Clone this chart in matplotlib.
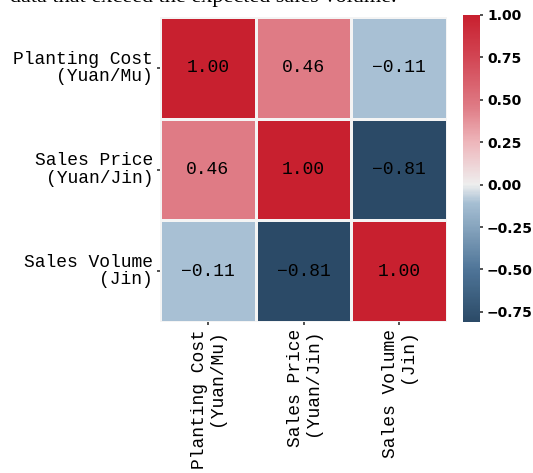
import numpy as np
import matplotlib
matplotlib.use("Agg")
import matplotlib.pyplot as plt
from matplotlib.colors import LinearSegmentedColormap, Normalize

labels = ["Planting Cost\n(Yuan/Mu)", "Sales Price\n(Yuan/Jin)", "Sales Volume\n(Jin)"]
corr = np.array([
    [1.00, 0.46, -0.11],
    [0.46, 1.00, -0.81],
    [-0.11, -0.81, 1.00],
])
cbar_ticks = [-0.75, -0.50, -0.25, 0.00, 0.25, 0.50, 0.75, 1.00]
caption = "data that exceed the expected sales volume."

vmin, vmax = corr.min(), corr.max()
nodes_v = [-0.81, -0.5, -0.11, 0.0, 0.25, 0.46, 0.75, 1.0]
nodes_c = ["#2b4a67", "#4f7598", "#a6bfd3", "#eeeeee", "#eeb6bb", "#df7b85", "#d24654", "#c8202f"]
cmap = LinearSegmentedColormap.from_list(
    "div", [((v - vmin) / (vmax - vmin), c) for v, c in zip(nodes_v, nodes_c)])
norm = Normalize(vmin=vmin, vmax=vmax)

W, H = 533, 473
fig = plt.figure(figsize=(W / 100, H / 100), dpi=100)
ax = fig.add_axes([160 / W, 1 - 322 / H, 287 / W, 305 / H])
cax = fig.add_axes([463 / W, 1 - 322 / H, 17 / W, 307 / H])

n = len(labels)
mesh = ax.pcolormesh(np.arange(n + 1), np.arange(n + 1), corr, cmap=cmap, norm=norm,
                     edgecolors="#f4f4f4", linewidth=0.8)
ax.set_xlim(0, n)
ax.set_ylim(n, 0)
for s in ax.spines.values():
    s.set_visible(False)

mono = "Liberation Mono"
for i in range(n):
    for j in range(n):
        ax.text(j + 0.5, i + 0.5, f"{corr[i, j]:.2f}".replace("-", "\u2212"),
                ha="center", va="center", fontsize=13, family=mono, color="black")

ax.set_xticks(np.arange(n) + 0.5)
ax.set_yticks(np.arange(n) + 0.5)
ax.set_xticklabels(labels, rotation=90, family=mono, fontsize=13, ha="center",
                   va="top", multialignment="right", linespacing=1.0)
ax.set_yticklabels(labels, family=mono, fontsize=13, ha="right", va="center",
                   multialignment="right", linespacing=1.05)
ax.tick_params(axis="both", length=2, width=1.2, color="#333333", pad=3)

cb = fig.colorbar(mesh, cax=cax, ticks=cbar_ticks)
cb.outline.set_visible(False)
cb.ax.tick_params(length=2, width=1.2, color="#333333", pad=3)
cb.ax.set_yticklabels([f"{t:.2f}".replace("-", "\u2212") for t in cbar_ticks],
                      fontsize=10, fontweight="bold")

fig.text(10 / W, 1 - 2 / H, caption, ha="left", va="baseline",
         family="Liberation Serif", fontsize=16)

fig.savefig("out.png", dpi=100)
